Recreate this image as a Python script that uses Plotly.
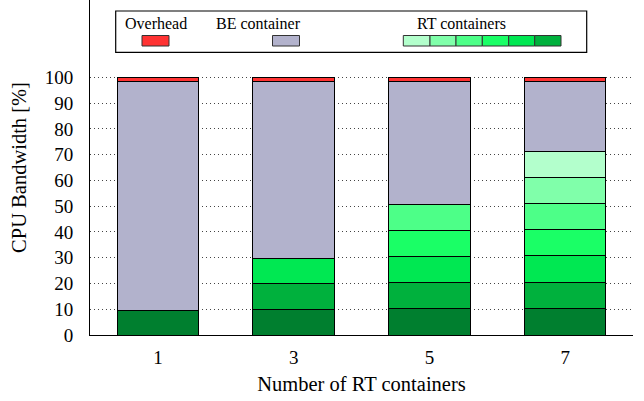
import plotly.graph_objects as go

# ---- data ----
categories = ["1", "3", "5", "7"]
rt_segments = [
    [9.7],
    [10.0, 10.1, 9.7],
    [10.1, 10.2, 10.1, 10.2, 9.9],
    [10.1, 10.3, 10.3, 10.2, 10.1, 10.1, 10.1],
]
be_top = [98.4, 98.4, 98.4, 98.4]
overhead = [1.6, 1.6, 1.6, 1.6]
y_ticks = [0, 10, 20, 30, 40, 50, 60, 70, 80, 90, 100]

rt_colors = ["#007f2f", "#00b13d", "#00e852", "#1aff66", "#4dff88", "#80ffaa", "#b3ffcc"]
be_color = "#b2b2cc"
oh_color = "#ff3333"

FONT = "'Liberation Serif', 'Times New Roman', Times, serif"

fig = go.Figure()
max_rt = max(len(s) for s in rt_segments)
for level in range(max_rt):
    vals = [s[level] if level < len(s) else 0 for s in rt_segments]
    fig.add_trace(go.Bar(
        x=categories, y=vals, name=f"RT {level+1}",
        marker=dict(color=rt_colors[level], line=dict(color="black", width=1)),
        width=0.6, showlegend=False,
    ))
be_vals = [t - sum(s) for t, s in zip(be_top, rt_segments)]
fig.add_trace(go.Bar(x=categories, y=be_vals, name="BE container",
                     marker=dict(color=be_color, line=dict(color="black", width=1)),
                     width=0.6, showlegend=False))
fig.add_trace(go.Bar(x=categories, y=overhead, name="Overhead",
                     marker=dict(color=oh_color, line=dict(color="black", width=1)),
                     width=0.6, showlegend=False))

# ---- legend drawn manually (pixel layout -> paper coords) ----
L, R, T, B = 90, 633, 0, 335
W, H = 644, 401


def px(x):
    return (x - L) / (R - L)


def py(y):
    return (B - y) / (B - T)


shapes = []
annotations = []
shapes.append(dict(type="rect", xref="paper", yref="paper",
                   x0=px(115.7), x1=px(586.7), y0=py(52.3), y1=py(11),
                   line=dict(color="black", width=1.2), fillcolor="white", layer="above"))


def swatch(x0, x1, color):
    shapes.append(dict(type="rect", xref="paper", yref="paper",
                       x0=px(x0), x1=px(x1), y0=py(46), y1=py(35.5),
                       line=dict(color="#333333", width=1), fillcolor=color, layer="above"))


def label(xc, text):
    annotations.append(dict(xref="paper", yref="paper", x=px(xc), y=py(23),
                            text=text, showarrow=False, xanchor="center", yanchor="middle",
                            font=dict(family=FONT, size=16, color="black")))


label(156, "Overhead")
swatch(142, 169, oh_color)
label(258, "BE container")
swatch(272.5, 299.5, be_color)
label(461.5, "RT containers")
legend_rt = rt_colors[1:][::-1]
edges = [403.3, 430, 456, 482.3, 508.7, 534.7, 561]
for i, c in enumerate(legend_rt):
    swatch(edges[i], edges[i + 1], c)

fig.update_layout(
    barmode="stack",
    width=W, height=H,
    margin=dict(l=L, r=W - R, t=T, b=H - B),
    plot_bgcolor="white", paper_bgcolor="white",
    font=dict(family=FONT, size=19, color="black"),
    shapes=shapes, annotations=annotations,
    bargap=0.4,
)
fig.update_xaxes(
    range=[-0.5, 3.5], showline=True, linecolor="black", linewidth=1,
    showgrid=False, ticks="", ticklabelstandoff=5,
    title=dict(text="Number of RT containers", standoff=9, font=dict(size=20.5)),
    tickfont=dict(size=19),
)
fig.update_yaxes(
    range=[0, 130], tickvals=y_ticks, showline=True, linecolor="black", linewidth=1,
    showgrid=True, gridcolor="#444444", griddash="1px,3px", gridwidth=1,
    zeroline=False, ticks="", ticklabelstandoff=12,
    title=dict(text="CPU Bandwidth [%]", standoff=12, font=dict(size=20.5)),
    tickfont=dict(size=19),
)

fig.write_html("out.html", config={"displayModeBar": False},
               post_script="document.body.style.margin='0';document.body.style.padding='0';")
